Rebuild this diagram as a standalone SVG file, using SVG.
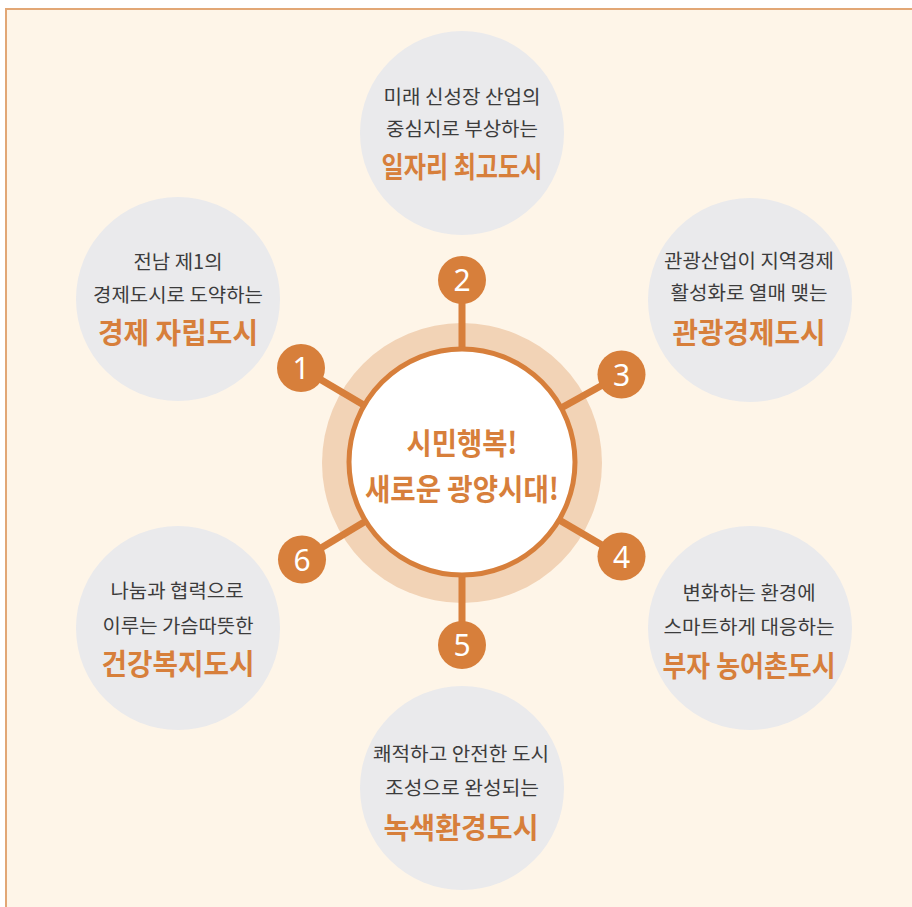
<svg xmlns="http://www.w3.org/2000/svg" width="912" height="907" viewBox="0 0 912 907">
<style>
.bg{fill:#FEF5E8;stroke:#E2A775;stroke-width:2}
.node{fill:#EAEAEC}
.t{font-family:"Noto Sans CJK KR","Noto Sans",sans-serif;text-anchor:middle}
.d{fill:#3C3C3C;font-size:19.5px}
.o{fill:#D77F3B;font-size:29px;font-weight:bold}
.c{font-size:30px}
.num{fill:#D77F3B}
.nt{font-family:"Noto Sans","Liberation Sans",sans-serif;fill:#FFFFFF;font-size:30px;text-anchor:middle}
.conn{stroke:#D77F3B;stroke-width:7}
</style>
<rect class="bg" x="6" y="9" width="912" height="905"/>

<g id="node-top">
<circle class="node" cx="462" cy="133" r="102"/>
<text class="t d" x="462" y="104" textLength="157" lengthAdjust="spacingAndGlyphs">미래 신성장 산업의</text>
<text class="t d" x="462" y="136" textLength="152" lengthAdjust="spacingAndGlyphs">중심지로 부상하는</text>
<text class="t o" x="462" y="178" textLength="161" lengthAdjust="spacingAndGlyphs">일자리 최고도시</text>
</g>
<g id="node-left-top">
<circle class="node" cx="178" cy="299" r="102"/>
<text class="t d" x="178" y="269" textLength="89" lengthAdjust="spacingAndGlyphs">전남 제1의</text>
<text class="t d" x="178" y="302" textLength="170" lengthAdjust="spacingAndGlyphs">경제도시로 도약하는</text>
<text class="t o" x="178" y="344" textLength="160" lengthAdjust="spacingAndGlyphs">경제 자립도시</text>
</g>
<g id="node-right-top">
<circle class="node" cx="750" cy="300" r="102"/>
<text class="t d" x="749" y="268" textLength="170" lengthAdjust="spacingAndGlyphs">관광산업이 지역경제</text>
<text class="t d" x="749" y="300" textLength="157" lengthAdjust="spacingAndGlyphs">활성화로 열매 맺는</text>
<text class="t o" x="749" y="344" textLength="153" lengthAdjust="spacingAndGlyphs">관광경제도시</text>
</g>
<g id="node-left-bottom">
<circle class="node" cx="178" cy="628" r="102"/>
<text class="t d" x="177" y="598" textLength="133" lengthAdjust="spacingAndGlyphs">나눔과 협력으로</text>
<text class="t d" x="178" y="633" textLength="151" lengthAdjust="spacingAndGlyphs">이루는 가슴따뜻한</text>
<text class="t o" x="178" y="675" textLength="153" lengthAdjust="spacingAndGlyphs">건강복지도시</text>
</g>
<g id="node-right-bottom">
<circle class="node" cx="750" cy="628" r="102"/>
<text class="t d" x="749" y="600" textLength="133" lengthAdjust="spacingAndGlyphs">변화하는 환경에</text>
<text class="t d" x="749" y="634" textLength="171" lengthAdjust="spacingAndGlyphs">스마트하게 대응하는</text>
<text class="t o" x="749" y="677" textLength="173" lengthAdjust="spacingAndGlyphs">부자 농어촌도시</text>
</g>
<g id="node-bottom">
<circle class="node" cx="462" cy="788" r="102"/>
<text class="t d" x="461" y="761" textLength="176" lengthAdjust="spacingAndGlyphs">쾌적하고 안전한 도시</text>
<text class="t d" x="462" y="795" textLength="154" lengthAdjust="spacingAndGlyphs">조성으로 완성되는</text>
<text class="t o" x="461" y="839" textLength="155" lengthAdjust="spacingAndGlyphs">녹색환경도시</text>
</g>

<g id="center">
<circle cx="462" cy="463" r="140" fill="#F2D3B6"/>
</g>
<g id="connectors">
<line class="conn" x1="462" y1="280" x2="462" y2="463"/>
<line class="conn" x1="462" y1="645" x2="462" y2="463"/>
<line class="conn" x1="301" y1="368" x2="462" y2="463"/>
<line class="conn" x1="621.5" y1="374.5" x2="462" y2="463"/>
<line class="conn" x1="621.5" y1="556.5" x2="462" y2="463"/>
<line class="conn" x1="302" y1="559.5" x2="462" y2="463"/>
</g>
<g id="center-core">
<circle cx="462" cy="462" r="113" fill="#FFFFFF" stroke="#D77F3B" stroke-width="5"/>
<text class="t o c" x="462" y="454" textLength="111" lengthAdjust="spacingAndGlyphs">시민행복!</text>
<text class="t o c" x="462" y="500" textLength="194" lengthAdjust="spacingAndGlyphs">새로운 광양시대!</text>
</g>

<g id="num-1"><circle class="num" cx="301" cy="368" r="24"/><text class="nt" x="301" y="379">1</text></g>
<g id="num-2"><circle class="num" cx="462" cy="280" r="24"/><text class="nt" x="462" y="291">2</text></g>
<g id="num-3"><circle class="num" cx="621.5" cy="374.5" r="24"/><text class="nt" x="621.5" y="385.5">3</text></g>
<g id="num-4"><circle class="num" cx="621.5" cy="556.5" r="24"/><text class="nt" x="621.5" y="567.5">4</text></g>
<g id="num-5"><circle class="num" cx="462" cy="645" r="24"/><text class="nt" x="462" y="656">5</text></g>
<g id="num-6"><circle class="num" cx="302" cy="559.5" r="24"/><text class="nt" x="302" y="570.5">6</text></g>
</svg>
